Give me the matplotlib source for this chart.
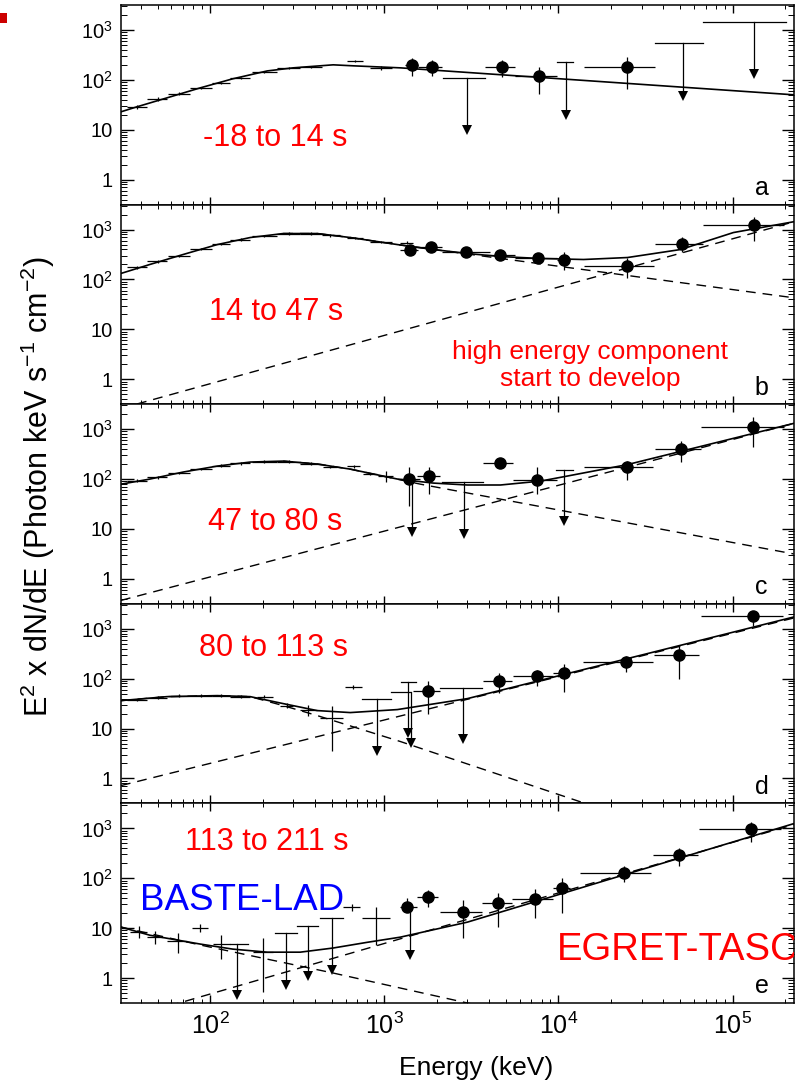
import numpy as np
import matplotlib
matplotlib.use("Agg")
import matplotlib.pyplot as plt
from matplotlib.ticker import FixedLocator, FixedFormatter, LogLocator, NullFormatter
from matplotlib.patches import Rectangle

plt.rcParams['font.family'] = ['Liberation Sans', 'DejaVu Sans']
plt.rcParams['mathtext.fontset'] = 'custom'
plt.rcParams['mathtext.rm'] = 'Liberation Sans'
plt.rcParams['mathtext.it'] = 'Liberation Sans:italic'

# energy range (keV) and E^2 dN/dE range
x_range = (30.8, 2.25e5)
y_range = (10 ** -0.5, 10 ** 3.5)

# ---------- panel a: -18 to 14 s ----------
a_model = [(30.8, 22.9), (38, 28.8), (56.6, 43.6), (87.7, 69), (135, 105), (213, 151),
           (300, 174), (509, 200), (664, 191), (1236, 174), (227000, 50)]
# (E, E_lo, E_hi, F, F_lo, F_hi)
a_lad = [(38, 33.3, 43.5, 28.8, 26.5, 31.5), (50, 43.5, 56.6, 41.7, 38.5, 45),
         (66, 57.4, 76.8, 52.5, 49, 56), (89, 76.8, 102.6, 69, 65, 73),
         (115, 102.6, 130, 87, 82, 92), (150, 130, 170, 110, 104, 116),
         (205, 174, 243, 145, 137, 153), (283, 243, 329, 174, 165, 183),
         (380, 329, 440, 182, 172, 192), (680, 612, 757, 240, 225, 255),
         (960, 832, 1111, 174, 160, 190)]
a_tasc = [(1449, 1318, 1567, 200, 120, 275), (1888, 1567, 2153, 182, 120, 251),
          (4760, 3802, 5662, 182, 115, 251), (7780, 5662, 9863, 120, 52, 182),
          (24900, 14090, 35650, 182, 66, 288)]
# upper limits: (E, E_lo, E_hi, F_top, F_arrow)
a_ul = [(3000, 2183, 3802, 110, 8.7), (11100, 9863, 12190, 229, 18),
        (51600, 36060, 67300, 550, 42), (132000, 67300, 201800, 1445, 115)]

# ---------- panel b: 14 to 47 s ----------
b_model = [(30.8, 132), (45.2, 200), (70, 316), (110, 500), (170, 692), (263, 832),
           (412, 832), (638, 692), (1189, 500), (1914, 398), (3000, 331), (4645, 288),
           (7890, 263), (13930, 251), (24900, 275), (50270, 398), (101000, 871),
           (227000, 1445)]
b_band = [(263, 832), (412, 832), (638, 692), (1189, 500), (11270, 174), (227000, 42.7)]
b_pl = [(30.8, 0.26), (227000, 1445)]
b_lad = [(38, 33.3, 43.5, 174, 163, 185), (50, 43.5, 56.6, 229, 215, 243),
         (66, 57.4, 76.8, 298, 280, 316), (89, 76.8, 102.6, 405, 383, 428),
         (115, 102.6, 130, 519, 490, 550), (150, 130, 170, 631, 598, 666),
         (205, 174, 243, 748, 710, 790), (283, 243, 329, 832, 790, 876),
         (380, 329, 440, 832, 790, 876), (490, 440, 560, 760, 720, 800),
         (680, 612, 757, 671, 635, 710), (960, 832, 1111, 562, 530, 595),
         (1350, 1236, 1470, 550, 520, 580)]
b_tasc = [(1409, 1236, 1567, 398, 316, 500), (1862, 1469, 2153, 457, 400, 520),
          (2960, 2153, 4064, 347, 310, 390), (4645, 3802, 5662, 316, 285, 350),
          (7670, 5662, 9863, 275, 245, 310), (10800, 9863, 11720, 251, 158, 347),
          (24900, 13930, 35160, 182, 105, 275), (50900, 36060, 67300, 525, 347, 724),
          (132000, 67300, 196300, 1259, 603, 1820)]
b_ul = []

# ---------- panel c: 47 to 80 s ----------
c_model = [(30.8, 79), (45.2, 100), (70, 138), (110, 182), (170, 219), (263, 229),
           (412, 200), (638, 158), (1189, 100), (1914, 83), (3000, 76), (4645, 76),
           (7890, 91), (11270, 115), (24900, 195), (227000, 1318)]
c_band = [(263, 229), (412, 200), (638, 158), (1611, 79), (224000, 3.16)]
c_pl = [(30.8, 0.37), (227000, 1318)]
c_lad = [(38, 33.3, 43.5, 92, 86, 98), (50, 43.5, 56.6, 108, 101, 115),
         (66, 57.4, 76.8, 132, 124, 140), (89, 76.8, 102.6, 160, 150, 170),
         (115, 102.6, 130, 185, 174, 196), (150, 130, 170, 207, 195, 220),
         (205, 174, 243, 223, 210, 236), (283, 243, 329, 224, 211, 237),
         (380, 329, 440, 204, 192, 216), (490, 446, 537, 174, 164, 185),
         (668, 612, 728, 182, 170, 195), (830, 757, 912, 126, 118, 135),
         (1020, 925, 1127, 115, 87, 145)]
c_tasc = [(1393, 1236, 1611, 100, 29, 174), (1816, 1549, 2089, 115, 50, 174),
          (4645, 3707, 5508, 209, 190, 230), (7570, 5508, 9863, 95, 50, 174),
          (24600, 13930, 34670, 174, 95, 229), (50200, 35650, 65460, 398, 219, 575),
          (130000, 65460, 196300, 1096, 437, 1738)]
c_ul = [(1449, 1449, 1449, 100, 7.9), (2884, 2153, 3707, 87, 7.2),
        (10700, 9616, 12190, 151, 12.6)]

# ---------- panel d: 80 to 113 s ----------
d_model = [(30.8, 36.3), (56.6, 43.6), (110, 45.7), (170, 43.6), (263, 31.6),
           (412, 22.9), (638, 20.9), (1189, 24), (3000, 39.8), (227000, 1738)]
d_band = [(30.8, 36.3), (56.6, 43.6), (110, 45.7), (170, 43.6), (263, 28.8),
          (412, 18.2), (1236, 5.5), (17400, 0.25)]
d_pl = [(30.8, 0.72), (227000, 1660)]
d_lad = [(38, 33.3, 43.5, 38, 36, 40), (50, 43.5, 56.6, 41.7, 39.5, 44),
         (66, 57.4, 76.8, 45.7, 43, 48.5), (89, 76.8, 102.6, 45.7, 43, 48.5),
         (115, 102.6, 130, 45.7, 43, 48.5), (150, 130, 170, 43.6, 41, 46),
         (205, 186, 230, 43.6, 41, 46), (275, 252, 300, 28.8, 26, 32),
         (365, 329, 412, 24, 18.2, 30.2), (500, 429, 581, 16.6, 3.5, 28.8),
         (664, 597, 748, 69, 63, 76)]
d_tasc = [(1791, 1469, 2099, 57.5, 20, 91), (4580, 3707, 5445, 91, 52, 132),
          (7570, 5508, 9354, 115, 72, 151), (10700, 9354, 11720, 132, 55, 200),
          (24300, 13740, 34670, 219, 138, 288), (49500, 35160, 63830, 302, 100, 457),
          (130000, 65460, 193600, 1820, 1148, 2290)]
d_ul = [(912, 748, 1096, 40, 3.2), (1374, 1253, 1528, 87, 7.2),
        (1420, 1096, 1409, 55, 4.6), (2845, 2099, 3656, 66, 5.5)]

# ---------- panel e: 113 to 211 s ----------
e_model = [(30.8, 10.5), (45.2, 7.2), (87.7, 4.8), (135, 3.8), (213, 3.3), (329, 3.3),
           (509, 4.0), (798, 5.2), (1236, 6.6), (3000, 13.2), (227000, 1259)]
e_band = [(30.8, 10.5), (87.7, 4.6), (509, 1.26), (3000, 0.316), (4645, 0.23)]
e_pl = [(30.8, 0.145), (227000, 1202)]
e_lad = [(39, 34.7, 43.5, 8.3, 6.3, 11), (48, 43.5, 53.7, 6.6, 4.8, 8.7),
         (65, 56.6, 73.8, 5.5, 3.2, 7.9), (88, 78.9, 97.5, 10, 8.3, 12),
         (116, 104, 130, 4.8, 2.4, 7.2), (200, 177, 230, 3.3, 0.52, 6.3),
         (650, 581, 728, 26.3, 22, 31), (900, 748, 1082, 15.8, 4.6, 26.3)]
e_tasc = [(1355, 1236, 1549, 26.3, 26.3, 40), (1791, 1549, 2042, 41.7, 26.3, 57.5),
          (2845, 2099, 3656, 20.9, 6.3, 36), (4520, 3656, 5445, 31.6, 10.5, 50),
          (7380, 5445, 9354, 38, 15.8, 60), (10540, 9354, 11720, 63, 20, 100),
          (23700, 13370, 34200, 126, 83, 174), (48900, 34670, 62950, 288, 174, 398),
          (127000, 63830, 188800, 955, 525, 1318)]
e_ul = [(143, 130, 165, 4.8, 0.417), (274, 237, 316, 7.9, 0.66),
        (366, 316, 417, 11, 1.0), (502, 429, 581, 15.8, 1.32),
        (1400, 1400, 1400, 26.3, 2.6)]

panel_letters = ['a', 'b', 'c', 'd', 'e']
time_labels = ['-18 to 14 s', '14 to 47 s', '47 to 80 s', '80 to 113 s', '113 to 211 s']
time_label_pos = [(0.229, 0.335), (0.231, 0.46), (0.229, 0.41), (0.226, 0.78), (0.217, 0.805)]

DASH = (0, (7, 5))


def draw_points(ax, rows, marker):
    if not rows:
        return
    e, elo, ehi, f, flo, fhi = [np.array(v, dtype=float) for v in zip(*rows)]
    ax.errorbar(e, f, xerr=[e - elo, ehi - e], yerr=[f - flo, fhi - f],
                fmt=marker, color='k', ms=8, ecolor='k', elinewidth=0.9, capsize=0)


def draw_limits(ax, rows):
    for e, elo, ehi, top, end in rows:
        if ehi > elo:
            ax.plot([elo, ehi], [top, top], color='k', lw=0.9)
        ax.plot([e, e], [top, end * 1.12], color='k', lw=0.9)
        ax.plot(e, end * 1.12, marker='v', ms=7, color='k', mew=0)


def draw_panel(ax, model, band, pl, lad, tasc, ul):
    if band:
        ax.plot(*zip(*band), color='k', lw=1.0, ls=DASH)
    if pl:
        ax.plot(*zip(*pl), color='k', lw=1.0, ls=DASH)
    ax.plot(*zip(*model), color='k', lw=1.2)
    draw_points(ax, lad, 'none')
    draw_points(ax, tasc, 'o')
    draw_limits(ax, ul)


def style_axis(ax, bottom):
    ax.set_xscale('log')
    ax.set_yscale('log')
    ax.set_xlim(*x_range)
    ax.set_ylim(*y_range)
    ax.yaxis.set_major_locator(FixedLocator([1, 10, 100, 1000]))
    ax.yaxis.set_major_formatter(FixedFormatter(['1', '10', '$10^2$', '$10^3$']))
    ax.yaxis.set_minor_locator(LogLocator(base=10, subs=np.arange(2, 10), numticks=20))
    ax.yaxis.set_minor_formatter(NullFormatter())
    ax.xaxis.set_major_locator(LogLocator(base=10, numticks=10))
    ax.xaxis.set_minor_locator(LogLocator(base=10, subs=np.arange(2, 10), numticks=20))
    ax.xaxis.set_minor_formatter(NullFormatter())
    ax.tick_params(which='both', direction='in', top=True, right=True)
    ax.tick_params(axis='y', which='major', length=9, width=1, labelsize=14.5, pad=6)
    ax.tick_params(axis='y', which='minor', length=4.5, width=0.7)
    ax.tick_params(axis='x', which='major', length=6, width=1, labelsize=18, pad=7)
    ax.tick_params(axis='x', which='minor', length=3, width=0.7)
    if not bottom:
        ax.tick_params(axis='x', labelbottom=False)
    for s in ax.spines.values():
        s.set_linewidth(1.1)


panels = [
    (a_model, [], [], a_lad, a_tasc, a_ul),
    (b_model, b_band, b_pl, b_lad, b_tasc, b_ul),
    (c_model, c_band, c_pl, c_lad, c_tasc, c_ul),
    (d_model, d_band, d_pl, d_lad, d_tasc, d_ul),
    (e_model, e_band, e_pl, e_lad, e_tasc, e_ul),
]

fig = plt.figure(figsize=(8.05, 10.86), dpi=100)
left, width = 121 / 805, 673 / 805
top, height = 1 - 5 / 1086, 199.6 / 1086

axes = []
for i, data in enumerate(panels):
    ax = fig.add_axes([left, top - (i + 1) * height, width, height])
    draw_panel(ax, *data)
    style_axis(ax, bottom=(i == 4))
    ax.text(0.952, 0.048, panel_letters[i], transform=ax.transAxes, fontsize=18,
            ha='center', va='baseline')
    tx, ty = time_label_pos[i]
    ax.text(tx, ty, time_labels[i], transform=ax.transAxes, fontsize=22,
            color='red', ha='center', va='center')
    axes.append(ax)

axes[1].text(0.697, 0.195, 'high energy component\nstart to develop',
             transform=axes[1].transAxes, fontsize=19, color='red',
             ha='center', va='center', linespacing=1.15)
axes[4].text(0.18, 0.515, 'BASTE-LAD', transform=axes[4].transAxes, fontsize=26.5,
             color='blue', ha='center', va='center')
# the right end of this label runs past the frame and gets cut off
axes[4].text(0.648, 0.265, 'EGRET-TASC', transform=axes[4].transAxes, fontsize=27.5,
             color='red', ha='left', va='center', clip_on=True)

fig.text(0.047, 0.552, 'E$^2$ x dN/dE (Photon keV s$^{-1}$ cm$^{-2}$)', rotation=90,
         fontsize=22, ha='center', va='center')
fig.text(0.592, 0.0166, 'Energy (keV)', fontsize=19, ha='center', va='center')

# small red mark in the top left corner
fig.add_artist(Rectangle((0, 1 - 23 / 1086), 7 / 805, 10 / 1086,
                         transform=fig.transFigure, color='#cc0000', lw=0))

fig.savefig('out.png', dpi=100)
